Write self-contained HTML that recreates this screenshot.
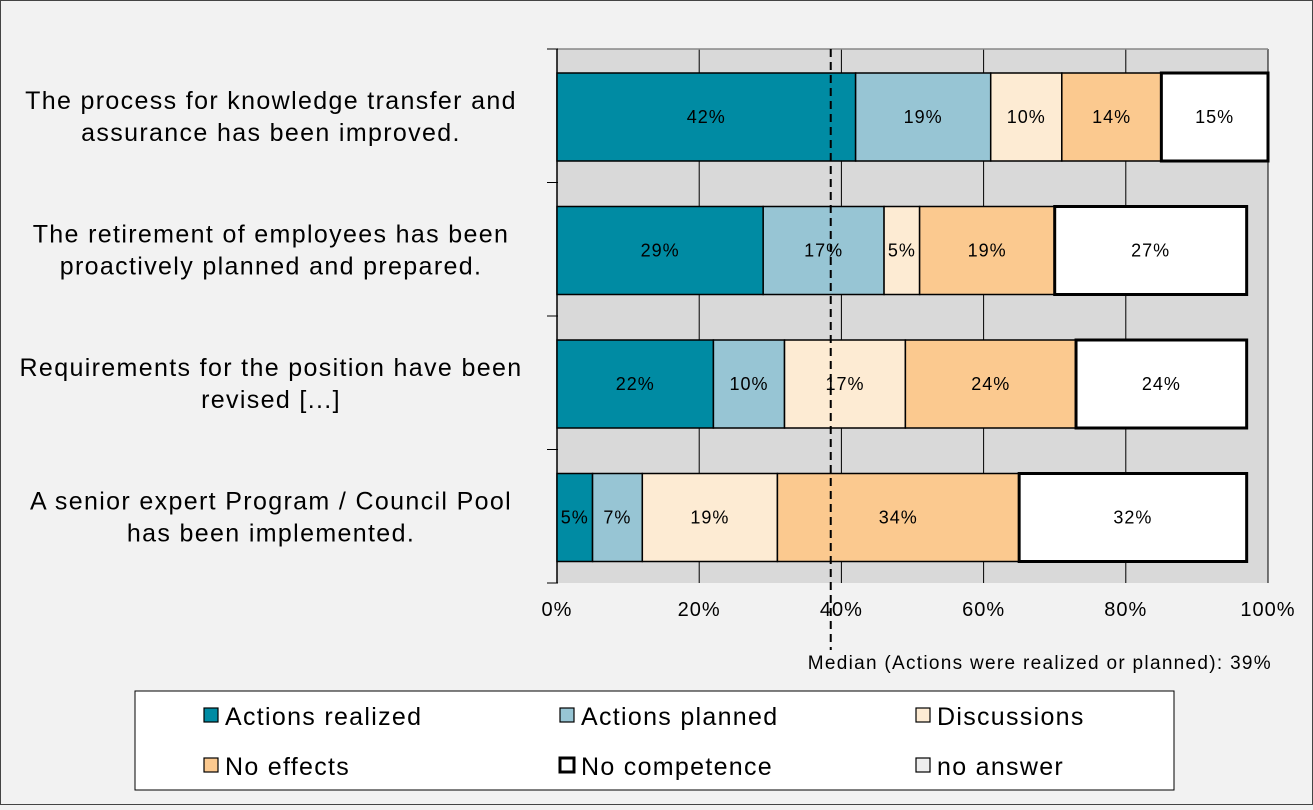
<!DOCTYPE html>
<html><head><meta charset="utf-8"><style>
html,body{margin:0;padding:0;background:#f2f2f2;}
svg text{font-family:"Liberation Sans",Arial,sans-serif;}
</style></head><body>
<svg id="chart" width="1313" height="805" xmlns="http://www.w3.org/2000/svg">
<rect x="0.5" y="0.5" width="1312" height="804" fill="#f2f2f2" stroke="#444" stroke-width="1"/>
<g id="plot"></g>
</svg>
<script>
const categories=[["The process for knowledge transfer and","assurance has been improved."],["The retirement of employees has been","proactively planned and prepared."],["Requirements for the position have been","revised [...]"],["A senior expert Program / Council Pool","has been implemented."]];
const seriesNames=["Actions realized","Actions planned","Discussions","No effects","No competence","no answer"];
const colors=["#008ba3","#97c5d4","#fdebd3","#fbc98f","#ffffff","#eeeeee"];
const realized=[42,29,22,5];
const planned=[19,17,10,7];
const discussions=[10,5,17,19];
const noEffects=[14,19,24,34];
const noCompetence=[15,27,24,32];
const ticks=[0,20,40,60,80,100];
const median=38.5;
const series=[realized,planned,discussions,noEffects,noCompetence];
const NS="http://www.w3.org/2000/svg";
const g=document.getElementById('plot');
const X0=557,X1=1268,Y0=49,Y1=583;
const x=v=>X0+(X1-X0)*v/100;
const band=(Y1-Y0)/categories.length;
function mk(t,a){const e=document.createElementNS(NS,t);for(const k in a)e.setAttribute(k,a[k]);g.appendChild(e);return e;}
const bg=mk('rect',{x:X0,y:Y0,width:X1-X0,height:Y1-Y0,fill:'#d9d9d9'});


ticks.forEach(t=>{
 const l=mk('line',{x1:x(t),x2:x(t),y1:Y0,y2:Y1,stroke:'#000','stroke-width':1});
 
 
 const tx=mk('text',{x:x(t),y:616,'font-size':20,'letter-spacing':1,'text-anchor':'middle',fill:'#000'});
 tx.textContent=t+'%';
 
 
});
const plotTop=mk('line',{x1:X0,x2:X1,y1:Y0,y2:Y0,stroke:'#888','stroke-width':1.5});


const yAxis=mk('line',{x1:X0,x2:X0,y1:Y0,y2:Y1,stroke:'#000','stroke-width':1.5});


for(let i=0;i<=categories.length;i++){
 const tk=mk('line',{x1:X0-10,x2:X0+1,y1:Y0+i*band,y2:Y0+i*band,stroke:'#000','stroke-width':1});
 
 
}
categories.forEach((c,i)=>{
 const by=Y0+i*band+24, bh=88;
 let acc=0;
 series.forEach((s,j)=>{
  const v=s[i];
  const last=j===4;
  const r=mk('rect',{x:x(acc),y:by,width:x(acc+v)-x(acc),height:bh,fill:colors[j],stroke:'#000','stroke-width':last?3:1.5});
  
  
  const t=mk('text',{x:(x(acc)+x(acc+v))/2,y:by+bh/2+6,'font-size':18,'letter-spacing':1,'text-anchor':'middle',fill:'#000'});
  t.textContent=v+'%';
  
  
  acc+=v;
 });
 c.forEach((line,k)=>{
  const t=mk('text',{x:271,y:Y0+i*band+60+k*32,'font-size':25,'letter-spacing':1.35,'text-anchor':'middle',fill:'#000'});
  t.textContent=line;
  
  
 });
});
const md=mk('line',{x1:x(median),x2:x(median),y1:Y0,y2:650,stroke:'#000','stroke-width':2,'stroke-dasharray':'8,5'});


const mt=mk('text',{x:1272,y:669,'font-size':19,'letter-spacing':1.3,'text-anchor':'end',fill:'#000'});
mt.textContent='Median (Actions were realized or planned): 39%';


const lb=mk('rect',{x:135,y:691,width:1039,height:99,fill:'#fff',stroke:'#000','stroke-width':1});


const lx=[204,560,916], ly=[716,766];
seriesNames.forEach((n,j)=>{
 const cx=lx[j%3], cy=ly[Math.floor(j/3)];
 const sw=mk('rect',{x:cx,y:cy-8,width:14,height:14,fill:colors[j],stroke:'#000','stroke-width':j===4?3:1.2});
 
 
 const t=mk('text',{x:cx+21,y:cy+9,'font-size':25,'letter-spacing':1.3,fill:'#000'});
 t.textContent=n;
 
 
});
</script>
</body></html>
